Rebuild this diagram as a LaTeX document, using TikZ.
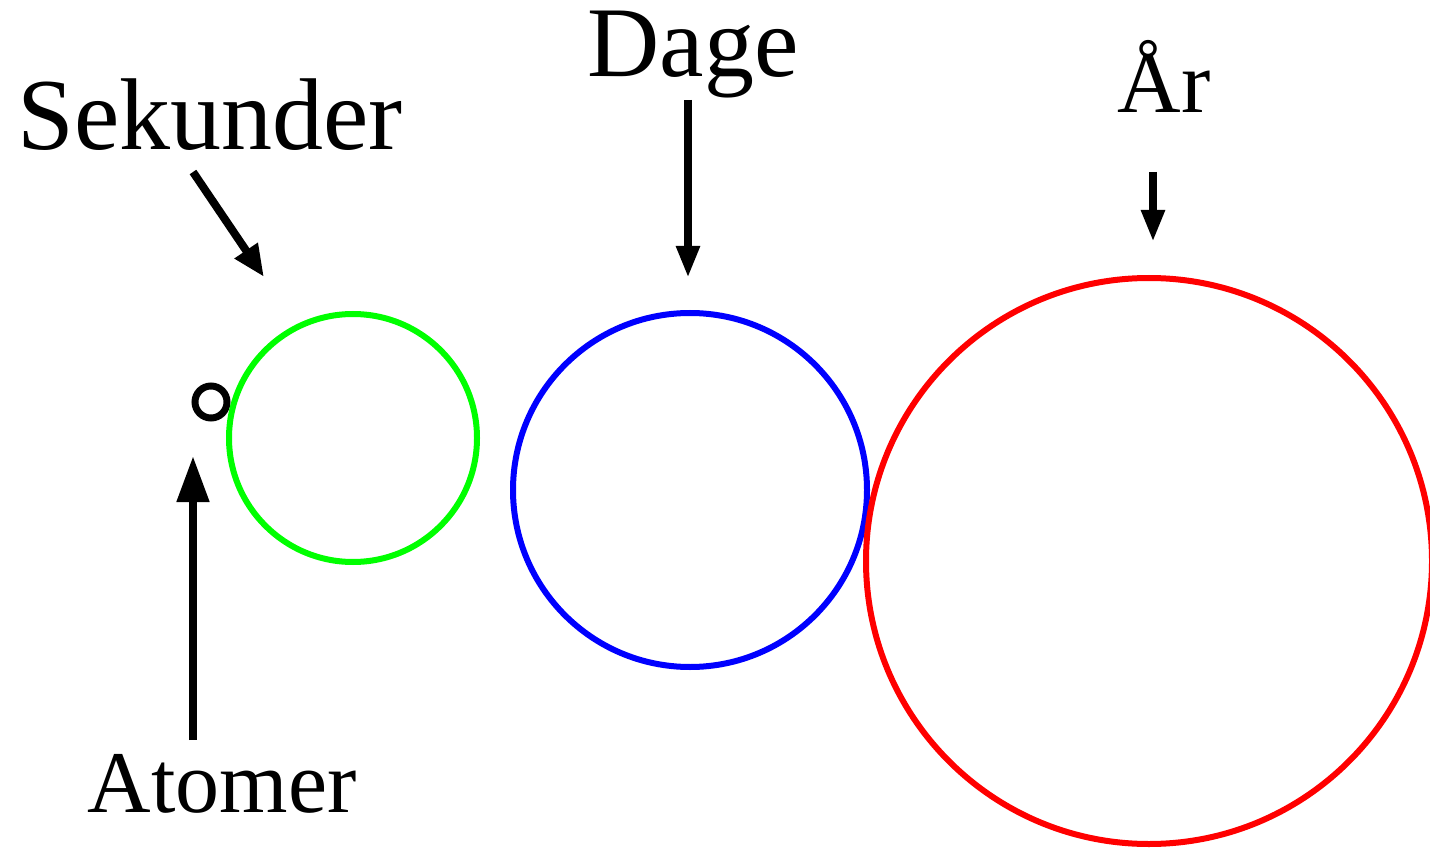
\documentclass[tikz,border=0pt]{standalone}
\usepackage{fontspec}
\setmainfont{Liberation Serif}
\usetikzlibrary{arrows.meta}
\begin{document}
\begin{tikzpicture}[x=1pt,y=-1pt,
  lbl/.style={font=\fontsize{100}{110}\selectfont, inner sep=0pt, anchor=base},
  slbl/.style={font=\fontsize{88}{96}\selectfont, inner sep=0pt, anchor=base},
  ring/.style={circle, draw, inner sep=0pt, line width=6pt},
  arr/.style={line width=8pt, -{Triangle[length=32pt,width=22pt]}},
  bigarr/.style={line width=8pt, -{Triangle[length=46pt,width=31pt]}}]
\useasboundingbox (0,0) rectangle (1430,850);
\node[ring, draw=black, line width=7pt, minimum size=32pt] (atom) at (211,402) {};
\node[ring, draw={rgb,255:red,0;green,255;blue,0}, minimum size=248pt] (sek) at (353,438) {};
\node[ring, draw={rgb,255:red,0;green,0;blue,255}, minimum size=354pt] (dag) at (690,490) {};
\node[ring, draw={rgb,255:red,255;green,0;blue,0}, minimum size=566pt] (aar) at (1149,561) {};
\node[lbl, font=\fontsize{102}{110}\selectfont] (tsek) at (210,150) {Sekunder};
\node[lbl] (tdag) at (693,77) {Dage};
\node[slbl] (taar) at (1164,113) {År};
\node[slbl] (tatom) at (222,812) {Atomer};
\coordinate (s1) at (193,172);
\coordinate (s2) at (264,277);
\coordinate (d1) at (688,100);
\coordinate (d2) at (688,278);
\coordinate (a1) at (1153,172);
\coordinate (a2) at (1153,242);
\coordinate (t1) at (193,740);
\coordinate (t2) at (193,456);
\draw[arr, -{Triangle[length=32pt,width=26pt]}] (s1) -- (s2);
\draw[arr] (d1) -- (d2);
\draw[arr] (a1) -- (a2);
\draw[bigarr] (t1) -- (t2);
\end{tikzpicture}
\end{document}
